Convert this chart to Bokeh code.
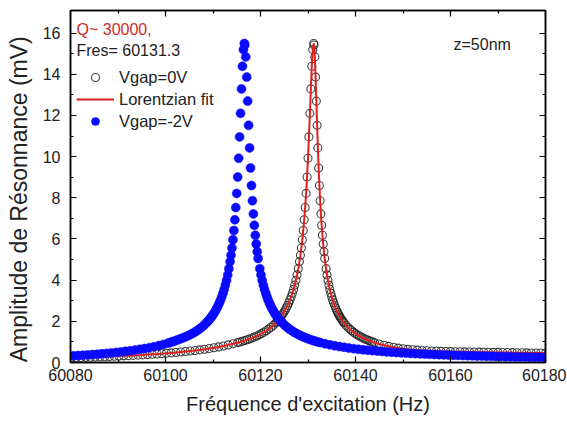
from bokeh.plotting import figure
from bokeh.models import Range1d, LinearAxis, Legend, LegendItem, Label, FixedTicker
from bokeh.embed import file_html
from bokeh.resources import INLINE

# ---------------- data ----------------
x_ticks = [60080, 60100, 60120, 60140, 60160, 60180]
x_minor = [60090, 60110, 60130, 60150, 60170]
y_ticks = [0, 2, 4, 6, 8, 10, 12, 14, 16]
y_minor = [1, 3, 5, 7, 9, 11, 13, 15]

# Vgap = 0V (open circles): frequency (Hz), amplitude (mV)
f_0v = [
    60080.2, 60081.2, 60082.2, 60083.2, 60084.2, 60085.2, 60086.2, 60087.2, 60088.2, 60089.2,
    60090.2, 60091.2, 60092.2, 60093.2, 60094.2, 60095.2, 60096.2, 60097.2, 60098.2, 60099.2,
    60100.2, 60101.2, 60102.2, 60103.2, 60104.2, 60105.2, 60106.2, 60107.2, 60108.2, 60109.2,
    60110.2, 60111.2, 60112.2, 60113.2, 60114.2,
    60115.2, 60115.7, 60116.2, 60116.7, 60117.2, 60117.7, 60118.2, 60118.7, 60119.2, 60119.7,
    60120.2, 60120.7, 60121.2, 60121.7, 60122.2, 60122.7,
    60123.2, 60123.45, 60123.7, 60123.95, 60124.2, 60124.45, 60124.7, 60124.95, 60125.2, 60125.45,
    60125.7, 60125.95, 60126.2, 60126.45, 60126.7, 60126.95, 60127.2, 60127.45, 60127.7, 60127.95,
    60128.2, 60128.4, 60128.6, 60128.8, 60129.0, 60129.2, 60129.4, 60129.6, 60129.8, 60130.0,
    60130.2, 60130.4, 60130.6, 60130.8, 60131.0, 60131.2,
    60131.28, 60131.44, 60131.6, 60131.76, 60131.92, 60132.08, 60132.24, 60132.4, 60132.56, 60132.72,
    60132.88, 60133.04, 60133.2, 60133.36, 60133.52,
    60133.8, 60134.0, 60134.2, 60134.4, 60134.6, 60134.8, 60135.0, 60135.2, 60135.4, 60135.6,
    60135.8, 60136.0, 60136.2, 60136.4, 60136.6, 60136.8, 60137.0, 60137.2, 60137.4, 60137.6,
    60138.0, 60138.4, 60138.8, 60139.2, 60139.6, 60140.0, 60140.4, 60140.8, 60141.2, 60141.6,
    60142.0, 60142.4, 60142.8, 60143.2, 60143.6, 60144.0,
    60145, 60146, 60147, 60148, 60149, 60150, 60151, 60152, 60153, 60154,
    60155, 60156, 60157, 60158, 60159, 60160, 60161, 60162, 60163, 60164,
    60165, 60166, 60167, 60168, 60169, 60170, 60171, 60172, 60173, 60174,
    60175, 60176, 60177, 60178, 60179, 60180,
]
a_0v = [
    0.228, 0.235, 0.242, 0.249, 0.257, 0.265, 0.273, 0.282, 0.291, 0.301,
    0.311, 0.322, 0.333, 0.345, 0.357, 0.370, 0.384, 0.399, 0.414, 0.431,
    0.449, 0.467, 0.487, 0.508, 0.532, 0.557, 0.583, 0.612, 0.643, 0.678,
    0.715, 0.757, 0.803, 0.854, 0.910,
    0.967, 0.998, 1.031, 1.066, 1.104, 1.145, 1.189, 1.236, 1.287, 1.343,
    1.403, 1.470, 1.542, 1.623, 1.712, 1.811,
    1.923, 1.984, 2.049, 2.118, 2.192, 2.271, 2.357, 2.449, 2.548, 2.656,
    2.773, 2.900, 3.040, 3.193, 3.362, 3.550, 3.759, 3.994, 4.258, 4.558,
    4.902, 5.213, 5.564, 5.962, 6.414, 6.932, 7.527, 8.215, 9.009, 9.923,
    10.960, 12.103, 13.291, 14.391, 15.199, 15.500,
    15.423, 14.846, 13.864, 12.698, 11.521, 10.426, 9.451, 8.598, 7.859, 7.219,
    6.664, 6.180, 5.757, 5.383, 5.053,
    4.558, 4.258, 3.994, 3.759, 3.550, 3.362, 3.193, 3.040, 2.900, 2.773,
    2.656, 2.548, 2.449, 2.357, 2.271, 2.192, 2.118, 2.049, 1.984, 1.923,
    1.811, 1.712, 1.623, 1.542, 1.470, 1.403, 1.343, 1.287, 1.236, 1.189,
    1.145, 1.104, 1.066, 1.031, 0.998, 0.967,
    0.900, 0.840, 0.785, 0.740, 0.700, 0.665, 0.640, 0.620, 0.600, 0.585,
    0.570, 0.560, 0.550, 0.542, 0.536, 0.530, 0.525, 0.521, 0.517, 0.513,
    0.509, 0.505, 0.501, 0.497, 0.494, 0.491, 0.487, 0.483, 0.479, 0.476,
    0.473, 0.469, 0.465, 0.461, 0.458, 0.455,
]

# Vgap = -2V (filled blue dots)
f_m2v = [
    60080.6, 60081.6, 60082.6, 60083.6, 60084.6, 60085.6, 60086.6, 60087.6, 60088.6, 60089.6,
    60090.6, 60091.6, 60092.6, 60093.6, 60094.6, 60095.6, 60096.6, 60097.6, 60098.6, 60099.6,
    60100.6, 60101.1, 60101.6, 60102.1, 60102.6, 60103.1, 60103.6, 60104.1, 60104.6, 60105.1,
    60105.6, 60106.1, 60106.6, 60107.1, 60107.6, 60108.1,
    60108.6, 60108.85, 60109.1, 60109.35, 60109.6, 60109.85, 60110.1, 60110.35, 60110.6, 60110.85,
    60111.1, 60111.35, 60111.6, 60111.85, 60112.1, 60112.35, 60112.6, 60112.85, 60113.1, 60113.35,
    60113.6, 60113.8, 60114.0, 60114.2, 60114.4, 60114.6, 60114.8, 60115.0, 60115.2, 60115.4,
    60115.6, 60115.8, 60116.0, 60116.2, 60116.4, 60116.6,
    60116.7, 60116.9, 60117.1, 60117.3, 60117.5, 60117.7, 60117.9, 60118.1, 60118.3, 60118.5,
    60118.7, 60118.9, 60119.1, 60119.3, 60119.5,
    60119.85, 60120.1, 60120.35, 60120.6, 60120.85, 60121.1, 60121.35, 60121.6, 60121.85, 60122.1,
    60122.35, 60122.6, 60122.85, 60123.1, 60123.35, 60123.6, 60123.85, 60124.1, 60124.35, 60124.6,
    60125.1, 60125.6, 60126.1, 60126.6, 60127.1, 60127.6, 60128.1, 60128.6, 60129.1, 60129.6,
    60130.1, 60130.6, 60131.1, 60131.6, 60132.1, 60132.6,
    60133.6, 60134.6, 60135.6, 60136.6, 60137.6, 60138.6, 60139.6, 60140.6, 60141.6, 60142.6,
    60143.6, 60144.6, 60145.6, 60146.6, 60147.6, 60148.6, 60149.6, 60150.6, 60151.6, 60152.6,
    60153.6, 60154.6, 60155.6, 60156.6, 60157.6, 60158.6, 60159.6, 60160.6, 60161.6, 60162.6,
    60163.6, 60164.6, 60165.6, 60166.6, 60167.6, 60168.6, 60169.6, 60170.6, 60171.6, 60172.6,
    60173.6, 60174.6, 60175.6, 60176.6, 60177.6, 60178.6, 60179.6,
]
a_m2v = [
    0.323, 0.337, 0.352, 0.368, 0.385, 0.404, 0.422, 0.443, 0.465, 0.489,
    0.515, 0.543, 0.571, 0.604, 0.640, 0.678, 0.721, 0.769, 0.821, 0.879,
    0.945, 0.981, 1.020, 1.060, 1.104, 1.145, 1.189, 1.236, 1.287, 1.343,
    1.403, 1.470, 1.542, 1.623, 1.712, 1.811,
    1.923, 1.984, 2.049, 2.118, 2.192, 2.271, 2.357, 2.449, 2.548, 2.656,
    2.773, 2.900, 3.040, 3.193, 3.362, 3.550, 3.759, 3.994, 4.258, 4.558,
    4.902, 5.213, 5.564, 5.962, 6.414, 6.932, 7.527, 8.215, 9.009, 9.923,
    10.960, 12.103, 13.291, 14.391, 15.199, 15.500,
    15.423, 14.846, 13.864, 12.698, 11.521, 10.426, 9.451, 8.598, 7.859, 7.219,
    6.664, 6.180, 5.757, 5.383, 5.053,
    4.558, 4.258, 3.994, 3.759, 3.550, 3.362, 3.193, 3.040, 2.900, 2.773,
    2.656, 2.548, 2.449, 2.357, 2.271, 2.192, 2.118, 2.049, 1.984, 1.923,
    1.811, 1.712, 1.623, 1.542, 1.470, 1.403, 1.343, 1.287, 1.236, 1.189,
    1.145, 1.104, 1.066, 1.031, 0.998, 0.967,
    0.910, 0.860, 0.815, 0.774, 0.737, 0.704, 0.673, 0.645, 0.620, 0.596,
    0.574, 0.553, 0.534, 0.516, 0.500, 0.484, 0.469, 0.456, 0.443, 0.430,
    0.419, 0.408, 0.397, 0.387, 0.378, 0.369, 0.360, 0.352, 0.344, 0.337,
    0.330, 0.323, 0.316, 0.310, 0.304, 0.298, 0.292, 0.287, 0.282, 0.277,
    0.272, 0.267, 0.263, 0.258, 0.254, 0.250, 0.246,
]

# Lorentzian fit of the Vgap=0V response (drawn through the same samples)
f_fit = f_0v
a_fit = a_0v

label_0v = "Vgap=0V"
label_fit = "Lorentzian fit"
label_m2v = "Vgap=-2V"
note_q = "Q~ 30000,"
note_fres = "Fres= 60131.3"
note_z = "z=50nm"

FONT = "Liberation Sans"
BLUE = "#0a0aff"
RED = "#e0201c"

p = figure(width=566, height=420, output_backend="svg", toolbar_location=None,
           x_range=Range1d(60080, 60180), y_range=Range1d(0, 17.1),
           min_border_left=70, min_border_right=21, min_border_top=10, min_border_bottom=58,
           background_fill_color="white", border_fill_color="white")
p.grid.visible = False
p.outline_line_color = "black"
p.outline_line_width = 1.5


def style_axis(ax, ticks, minor):
    ax.ticker = FixedTicker(ticks=ticks, minor_ticks=minor)
    ax.major_tick_in = 6
    ax.major_tick_out = 0
    ax.minor_tick_in = 3
    ax.minor_tick_out = 0
    ax.major_tick_line_color = "black"
    ax.minor_tick_line_color = "black"
    ax.axis_line_color = "black"
    ax.major_tick_line_width = 1.2
    ax.minor_tick_line_width = 1.2
    ax.axis_line_width = 1.5
    ax.major_label_text_font = FONT
    ax.major_label_text_font_size = "16px"
    ax.major_label_text_color = "#222222"
    ax.axis_label_text_font = FONT
    ax.axis_label_text_font_style = "normal"
    ax.axis_label_text_color = "#222222"


style_axis(p.xaxis[0], x_ticks, x_minor)
style_axis(p.yaxis[0], y_ticks, y_minor)
p.xaxis[0].axis_label = "Fréquence d'excitation (Hz)"
p.xaxis[0].axis_label_text_font_size = "20px"
p.xaxis[0].major_label_standoff = 6
p.xaxis[0].axis_label_standoff = 9
# trailing no-break spaces nudge the centred label slightly down, as in the original
p.yaxis[0].axis_label = "Amplitude de Résonnance (mV)\u00a0\u00a0\u00a0\u00a0"
p.yaxis[0].axis_label_text_font_size = "23px"
p.yaxis[0].major_label_standoff = 10
p.yaxis[0].axis_label_standoff = 8

top = LinearAxis()
style_axis(top, x_ticks, x_minor)
top.major_label_overrides = {t: "" for t in x_ticks}
top.major_label_text_font_size = "1px"
top.major_label_standoff = 0
p.add_layout(top, "above")
right = LinearAxis()
style_axis(right, y_ticks, y_minor)
right.major_label_overrides = {t: "" for t in y_ticks}
right.major_label_text_font_size = "1px"
right.major_label_standoff = 0
p.add_layout(right, "right")

r0 = p.scatter(f_0v, a_0v, marker="circle", size=8, fill_color=None,
               line_color="#1e1e1e", line_alpha=0.85, line_width=1.1)
rfit = p.line(f_fit, a_fit, line_color=RED, line_width=2)
rm2 = p.scatter(f_m2v, a_m2v, marker="circle", size=9, fill_color=BLUE,
                line_color=BLUE, line_width=0.5)

legend = Legend(items=[LegendItem(label=label_0v, renderers=[r0]),
                       LegendItem(label=label_fit, renderers=[rfit]),
                       LegendItem(label=label_m2v, renderers=[rm2])],
                location=(6, 231), orientation="vertical",
                glyph_width=38, glyph_height=20, label_height=20, spacing=2,
                padding=0, margin=0, label_standoff=5,
                border_line_color=None, background_fill_alpha=0,
                label_text_font=FONT, label_text_font_size="16.5px",
                label_text_color="#222222")
p.add_layout(legend, "center")

p.add_layout(Label(x=6, y=333, x_units="screen", y_units="screen", text=note_q,
                   text_font=FONT, text_font_size="16px", text_color="#d02a2a",
                   text_baseline="middle"))
p.add_layout(Label(x=6, y=312, x_units="screen", y_units="screen", text=note_fres,
                   text_font=FONT, text_font_size="16px", text_color="#222222",
                   text_baseline="middle"))
p.add_layout(Label(x=383, y=318, x_units="screen", y_units="screen", text=note_z,
                   text_font=FONT, text_font_size="16px", text_color="#222222",
                   text_baseline="middle"))

open("out.html", "w").write(file_html(p, INLINE))
